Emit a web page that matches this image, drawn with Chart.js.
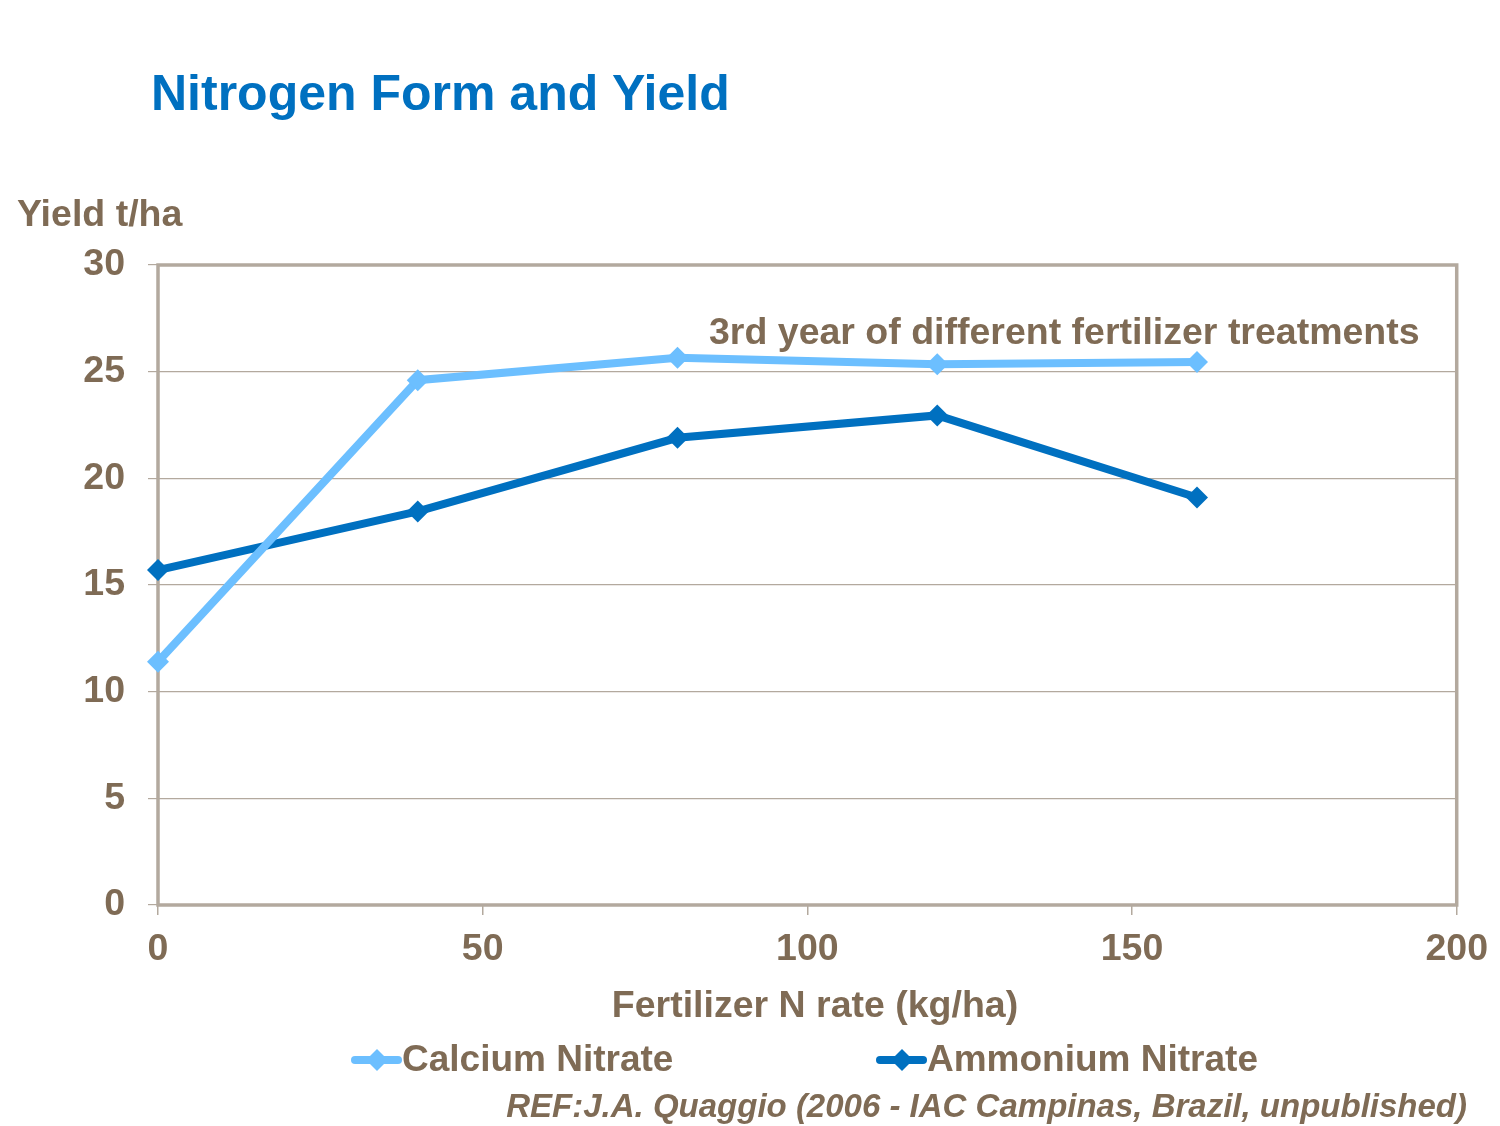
<!DOCTYPE html>
<html>
<head>
<meta charset="utf-8">
<script src="https://cdn.jsdelivr.net/npm/chart.js@4.4.0/dist/chart.umd.min.js"></script>
<style>
  html, body { margin: 0; padding: 0; background: #fff; }
  #wrap { width: 1500px; height: 1126px; }
</style>
</head>
<body>
<div id="wrap"><canvas id="yield_chart" width="1500" height="1126"></canvas></div>
<script>
	// data
	const nRates = [0, 40, 80, 120, 160];
	const calciumNitrate = [11.4, 24.6, 25.65, 25.35, 25.45];
	const ammoniumNitrate = [15.7, 18.45, 21.9, 22.95, 19.1];
	const xTicks = [0, 50, 100, 150, 200];
	const yTicks = [0, 5, 10, 15, 20, 25, 30];

	const textColor = '#7f6b55';
	const frameColor = '#b3a99e';
	const lightBlue = '#6cbfff';
	const darkBlue = '#0070c0';
	const fontFamily = '"Liberation Sans", Arial, sans-serif';

	function toPoints(values) {
		return nRates.map((x, i) => ({ x: x, y: values[i] }));
	}

	//frame, titles and legend drawn on the canvas
	const decor = {
		id: 'decor',
		beforeDraw: (chart) => {
			const ctx = chart.ctx;
			ctx.save();
			ctx.fillStyle = '#fff';
			ctx.fillRect(0, 0, chart.width, chart.height);
			ctx.restore();
		},
		beforeDatasetsDraw: (chart) => {
			const ctx = chart.ctx;
			const a = chart.chartArea;
			ctx.save();
			ctx.strokeStyle = frameColor;
			ctx.lineWidth = 3.5;
			ctx.strokeRect(a.left, a.top, a.right - a.left, a.bottom - a.top);
			ctx.restore();
		},
		afterDraw: (chart) => {
			const ctx = chart.ctx;
			ctx.save();
			ctx.textBaseline = 'middle';

			// title
			ctx.fillStyle = darkBlue;
			ctx.font = 'bold 50px ' + fontFamily;
			ctx.textAlign = 'left';
			ctx.fillText('Nitrogen Form and Yield', 151, 96);

			// axis titles
			ctx.fillStyle = textColor;
			ctx.font = 'bold 37.5px ' + fontFamily;
			ctx.fillText('Yield t/ha', 17, 216);
			ctx.textAlign = 'center';
			ctx.fillText('Fertilizer N rate (kg/ha)', 815, 1007);

			// note inside the plot
			ctx.textAlign = 'left';
			ctx.fillText('3rd year of different fertilizer treatments', 709, 334);

			// legend
			const items = [
				{ label: 'Calcium Nitrate', color: lightBlue, x: 355 },
				{ label: 'Ammonium Nitrate', color: darkBlue, x: 880 }
			];
			items.forEach((it) => {
				const y = 1060;
				ctx.strokeStyle = it.color;
				ctx.lineWidth = 8;
				ctx.lineCap = 'round';
				ctx.beginPath();
				ctx.moveTo(it.x, y);
				ctx.lineTo(it.x + 43, y);
				ctx.stroke();
				ctx.fillStyle = it.color;
				ctx.beginPath();
				const cx = it.x + 22;
				ctx.moveTo(cx, y - 11);
				ctx.lineTo(cx + 11, y);
				ctx.lineTo(cx, y + 11);
				ctx.lineTo(cx - 11, y);
				ctx.closePath();
				ctx.fill();
				ctx.fillStyle = textColor;
				ctx.font = 'bold 37px ' + fontFamily;
				ctx.fillText(it.label, it.x + 47, y + 1);
			});

			// reference
			ctx.font = 'italic bold 33px ' + fontFamily;
			ctx.textAlign = 'right';
			ctx.fillText('REF:J.A. Quaggio (2006 - IAC Campinas, Brazil, unpublished)', 1467, 1108);
			ctx.restore();
		}
	};

	const ctx = document.getElementById('yield_chart').getContext('2d');
	const yieldChart = new Chart(ctx, {
		type: 'line',
		data: {
			datasets: [{
				label: 'Calcium Nitrate',
				data: toPoints(calciumNitrate),
				borderColor: lightBlue,
				backgroundColor: lightBlue,
				borderWidth: 8,
				pointStyle: 'rectRot',
				pointRadius: 11,
				pointBorderWidth: 0,
				tension: 0,
				clip: false
			}, {
				label: 'Ammonium Nitrate',
				data: toPoints(ammoniumNitrate),
				borderColor: darkBlue,
				backgroundColor: darkBlue,
				borderWidth: 8,
				pointStyle: 'rectRot',
				pointRadius: 11,
				pointBorderWidth: 0,
				tension: 0,
				clip: false
			}]
		},
		options: {
			responsive: false,
			animation: false,
			devicePixelRatio: 1,
			layout: { padding: { top: 265, right: 43, left: 0, bottom: 0 } },
			plugins: {
				legend: { display: false },
				tooltip: { enabled: false }
			},
			scales: {
				x: {
					type: 'linear',
					min: 0,
					max: 200,
					afterBuildTicks: (scale) => { scale.ticks = xTicks.map(v => ({ value: v })); },
					afterFit: (scale) => { scale.height = 221; },
					border: { display: false },
					grid: { drawOnChartArea: false, drawTicks: true, tickLength: 10, color: frameColor, lineWidth: 1.5 },
					ticks: { color: textColor, padding: 12, font: { family: fontFamily, size: 37.5, weight: 'bold' } }
				},
				y: {
					min: 0,
					max: 30,
					afterBuildTicks: (scale) => { scale.ticks = yTicks.map(v => ({ value: v })); },
					afterFit: (scale) => { scale.width = 158; },
					border: { display: false },
					grid: { color: frameColor, lineWidth: 1.2, tickLength: 10 },
					ticks: { color: textColor, padding: 23, font: { family: fontFamily, size: 37.5, weight: 'bold' } }
				}
			}
		},
		plugins: [decor]
	});
</script>
</body>
</html>
